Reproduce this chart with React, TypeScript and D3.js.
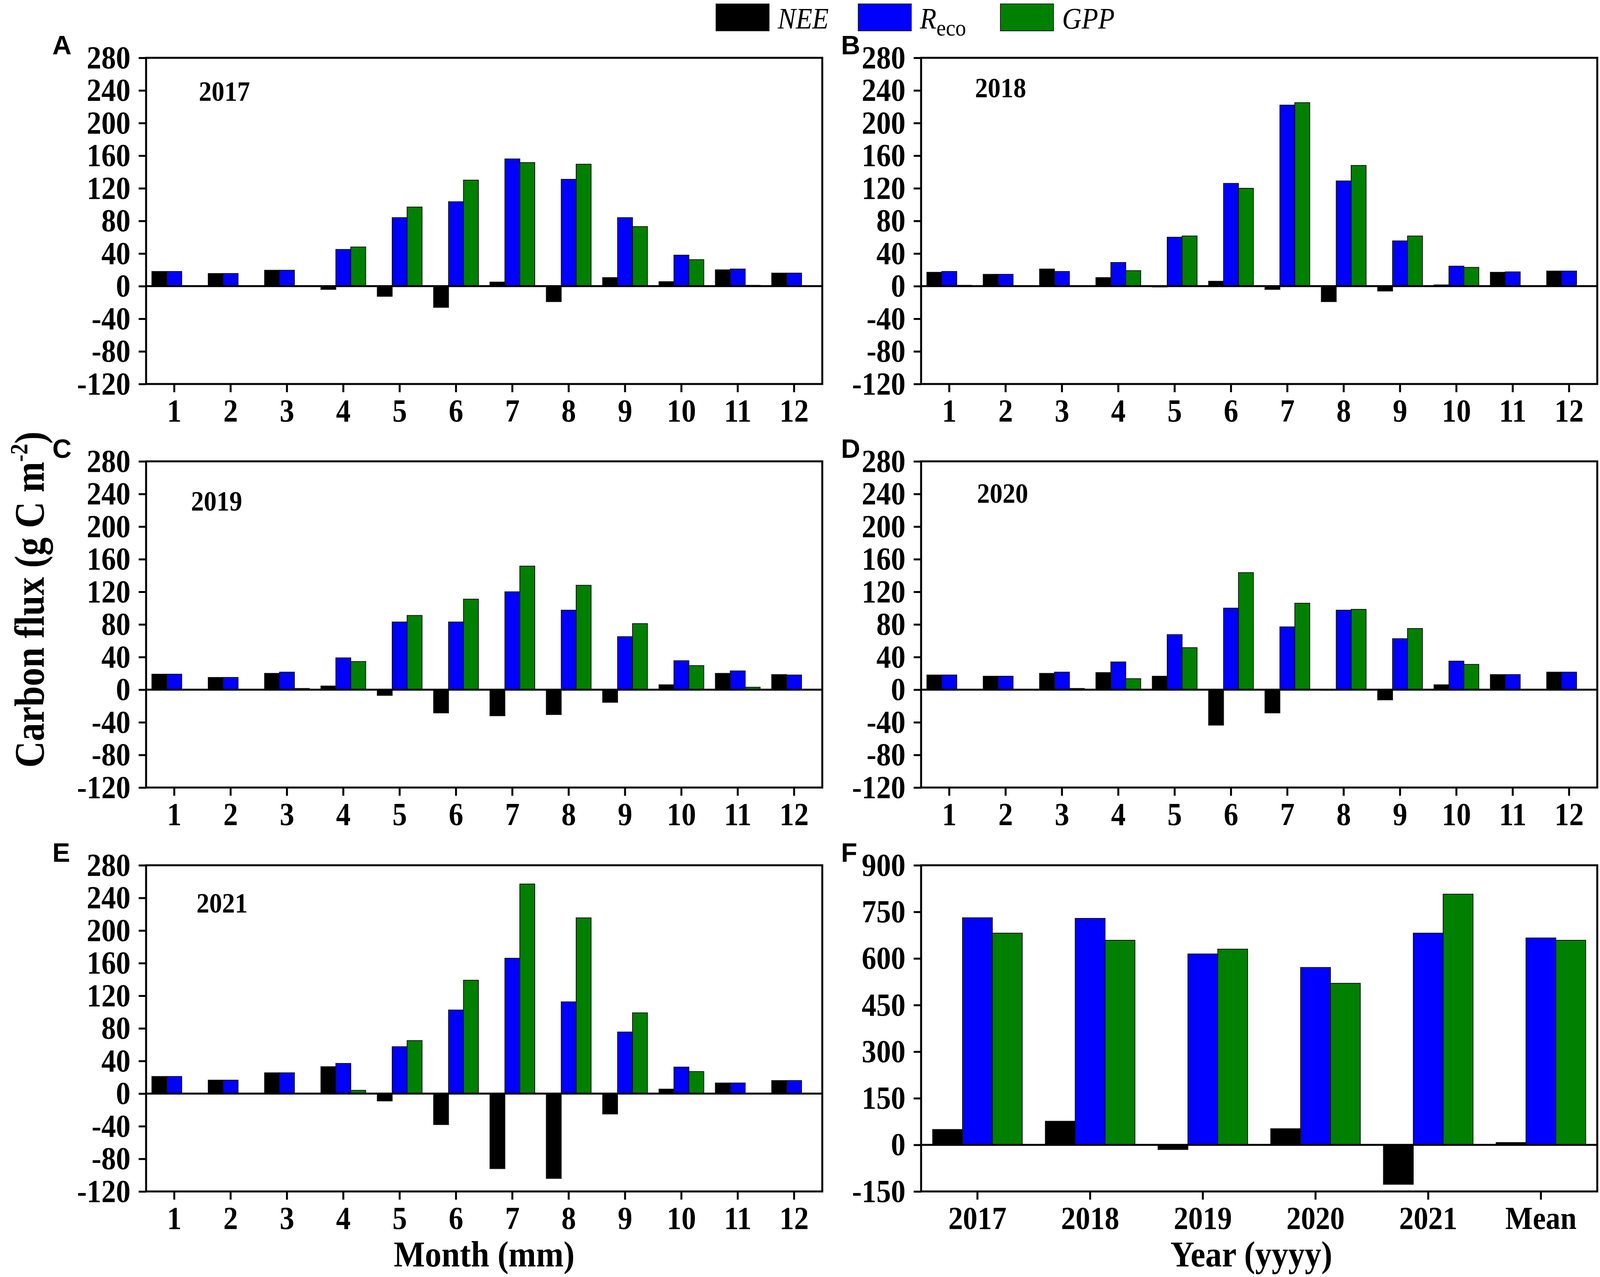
import React, { useEffect, useRef } from 'react';
import * as d3 from 'd3';

// ---- data ----
const months = ['1', '2', '3', '4', '5', '6', '7', '8', '9', '10', '11', '12'];
const years = ['2017', '2018', '2019', '2020', '2021', 'Mean'];

const nee2017 = [18, 15.5, 19.5, -4, -12.5, -26, 5, -19, 10.5, 5.5, 20, 16];
const reco2017 = [18, 15.5, 19.5, 45, 84, 103.5, 156, 131, 84, 38, 21, 16];
const gpp2017 = [0, 0, 0, 48, 97, 130, 151.5, 149.5, 73, 32.5, 1, 0];

const nee2018 = [17, 14.5, 21, 10.5, -1, 6, -4, -19, -6, 1.5, 17, 18.5];
const reco2018 = [18, 14.5, 18, 29, 60, 126, 222, 129, 55.5, 24.5, 17.5, 18.5];
const gpp2018 = [1, 0, 0, 19, 61.5, 120, 225, 148, 61.5, 23, 0.5, 0];

const nee2019 = [19, 15, 20, 4.5, -7, -28.5, -32, -30.5, -15.5, 6, 20, 18.5];
const reco2019 = [19, 15, 21.5, 39, 83, 83, 120, 97.5, 65, 35.5, 23, 18];
const gpp2019 = [0, 0, 1.5, 34.5, 91, 111, 151.5, 128, 81, 29.5, 3, 0];

const nee2020 = [18, 16.5, 20, 21, 16.5, -43.5, -28.5, -0.8, -12.5, 6, 18.5, 21.5];
const reco2020 = [18, 16.5, 21.5, 34, 67.5, 100, 77, 97.5, 62.5, 35, 18.5, 21.5];
const gpp2020 = [0, 0, 1.5, 13.5, 51.5, 143.5, 106, 98.5, 75, 31, 0, 0];

const nee2021 = [21, 16.5, 25.5, 33, -9, -38, -92, -104, -25, 5.5, 13, 16];
const reco2021 = [21, 16.5, 25.5, 37, 57.5, 102.5, 166, 112.5, 75.5, 32.5, 13, 16];
const gpp2021 = [0, 0, 0, 4, 65, 139, 257, 215.5, 99, 27, 0, 0];

const neeAnnual = [49.5, 76, -15, 52, -127, 7.5];
const recoAnnual = [731, 729, 614.5, 571, 681.5, 666];
const gppAnnual = [681.5, 658.5, 630, 520, 807, 658.5];

const seriesKeys = ['NEE', 'Reco', 'GPP'];
const seriesColors = ['#000000', '#0000ff', '#008000'];

const monthTicks = [-120, -80, -40, 0, 40, 80, 120, 160, 200, 240, 280];
const annualTicks = [-150, 0, 150, 300, 450, 600, 750, 900];

// ---- layout ----
const W = 4107;
const H = 3269;
const colLeft = [374, 2358];
const rowTop = [148, 1181, 2215];
const plotW = 1731;
const plotH = 835;
const SX = 0.91; // figure text is a bit narrow
const serif = '"Liberation Serif", "Times New Roman", serif';
const sans = '"Liberation Sans", Arial, sans-serif';

type Panel = {
  letter: string;
  label: string | null;
  cats: string[];
  values: number[][];
  ticks: number[];
  col: number;
  row: number;
  labelDx: number;
  labelDy: number;
};

const panels: Panel[] = [
  { letter: 'A', label: '2017', cats: months, values: [nee2017, reco2017, gpp2017], ticks: monthTicks, col: 0, row: 0, labelDx: 135, labelDy: 110 },
  { letter: 'B', label: '2018', cats: months, values: [nee2018, reco2018, gpp2018], ticks: monthTicks, col: 1, row: 0, labelDx: 138, labelDy: 101 },
  { letter: 'C', label: '2019', cats: months, values: [nee2019, reco2019, gpp2019], ticks: monthTicks, col: 0, row: 1, labelDx: 115, labelDy: 126 },
  { letter: 'D', label: '2020', cats: months, values: [nee2020, reco2020, gpp2020], ticks: monthTicks, col: 1, row: 1, labelDx: 143, labelDy: 106 },
  { letter: 'E', label: '2021', cats: months, values: [nee2021, reco2021, gpp2021], ticks: monthTicks, col: 0, row: 2, labelDx: 129, labelDy: 121 },
  { letter: 'F', label: null, cats: years, values: [neeAnnual, recoAnnual, gppAnnual], ticks: annualTicks, col: 1, row: 2, labelDx: 0, labelDy: 0 },
];

function drawPanel(svg: d3.Selection<SVGSVGElement, unknown, null, undefined>, p: Panel) {
  const g = svg.append('g').attr('transform', `translate(${colLeft[p.col]},${rowTop[p.row]})`);

  const x = d3.scaleBand<string>().domain(p.cats).range([0, plotW]);
  const groupW = x.bandwidth() * 0.795;
  const sub = d3.scaleBand<string>().domain(seriesKeys).range([0, groupW]);
  const yMin = p.ticks[0];
  const yMax = p.ticks[p.ticks.length - 1];
  const y = d3.scaleLinear().domain([yMin, yMax]).range([plotH, 0]);

  seriesKeys.forEach((key, i) => {
    g.append('g')
      .selectAll('rect')
      .data(p.values[i])
      .enter()
      .append('rect')
      .attr('x', (d, j) => (x(p.cats[j]) || 0) + (x.bandwidth() - groupW) / 2 + (sub(key) || 0))
      .attr('y', d => y(Math.max(0, d)))
      .attr('width', sub.bandwidth())
      .attr('height', d => Math.abs(y(d) - y(0)))
      .attr('fill', seriesColors[i])
      .attr('stroke', '#111')
      .attr('stroke-width', 2);
  });

  // zero line
  g.append('line')
    .attr('x1', 0)
    .attr('x2', plotW)
    .attr('y1', y(0))
    .attr('y2', y(0))
    .attr('stroke', '#000')
    .attr('stroke-width', 5);

  // frame
  g.append('rect')
    .attr('x', 0)
    .attr('y', 0)
    .attr('width', plotW)
    .attr('height', plotH)
    .attr('fill', 'none')
    .attr('stroke', '#000')
    .attr('stroke-width', 5);

  const yAxis = g.append('g').call(
    d3.axisLeft(y).tickValues(p.ticks).tickSize(19).tickPadding(21).tickFormat(d => String(d))
  );
  const xAxis = g.append('g').attr('transform', `translate(0,${plotH})`).call(
    d3.axisBottom(x).tickSize(21).tickPadding(17)
  );

  [yAxis, xAxis].forEach(ax => {
    ax.select('.domain').remove();
    ax.attr('font-size', null).attr('font-family', null);
    ax.selectAll('.tick line').attr('stroke', '#000').attr('stroke-width', 5);
    ax.selectAll('.tick text')
      .attr('fill', '#000')
      .attr('font-family', serif)
      .attr('font-weight', 'bold')
      .attr('font-size', 82);
  });

  // narrow the tick text like the original
  yAxis.selectAll<SVGTextElement, unknown>('.tick text').each(function () {
    const t = d3.select(this);
    t.attr('x', +t.attr('x') / SX).attr('transform', `scale(${SX},1)`);
  });
  xAxis.selectAll('.tick text').attr('transform', `scale(${SX},1)`);

  if (p.label) {
    g.append('text')
      .attr('transform', `translate(${p.labelDx},${p.labelDy}) scale(${SX},1)`)
      .attr('font-family', serif)
      .attr('font-weight', 'bold')
      .attr('font-size', 72)
      .text(p.label);
  }

  svg.append('text')
    .attr('x', colLeft[p.col] + (p.col === 0 ? -240 : -205))
    .attr('y', rowTop[p.row] - 9)
    .attr('font-family', sans)
    .attr('font-weight', 'bold')
    .attr('font-size', 68)
    .text(p.letter);
}

function drawLegend(svg: d3.Selection<SVGSVGElement, unknown, null, undefined>) {
  const lx = d3.scaleLinear().domain([0, 1]).range([1833, 2197]);
  const lg = svg.append('g');
  seriesKeys.forEach((key, i) => {
    const bx = lx(i);
    lg.append('rect')
      .attr('x', bx)
      .attr('y', 10)
      .attr('width', 136)
      .attr('height', 69)
      .attr('fill', seriesColors[i])
      .attr('stroke', '#222')
      .attr('stroke-width', 2);
    const t = lg.append('text')
      .attr('transform', `translate(${bx + 158},73) scale(${SX},1)`)
      .attr('font-family', serif)
      .attr('font-style', 'italic')
      .attr('font-size', 76);
    if (key === 'Reco') {
      t.append('tspan').text('R');
      t.append('tspan').attr('font-style', 'normal').attr('font-size', 60).attr('dy', 18).text('eco');
    } else {
      t.text(key);
    }
  });
}

export default function App() {
  const ref = useRef<SVGSVGElement | null>(null);

  useEffect(() => {
    document.body.style.margin = '0';
    if (!ref.current) return;
    const svg = d3.select(ref.current);
    svg.selectAll('*').remove();

    svg.append('rect').attr('width', W).attr('height', H).attr('fill', '#fff');

    panels.forEach(p => drawPanel(svg, p));
    drawLegend(svg);

    // y axis title
    const yt = svg.append('text')
      .attr('transform', `translate(112,1535) rotate(-90) scale(0.87,1)`)
      .attr('text-anchor', 'middle')
      .attr('font-family', serif)
      .attr('font-weight', 'bold')
      .attr('font-size', 108);
    yt.append('tspan').text('Carbon flux (g C m');
    yt.append('tspan').attr('font-size', 64).attr('dy', -42).text('-2');
    yt.append('tspan').attr('dy', 42).text(')');

    // x axis titles
    [
      { text: 'Month (mm)', cx: colLeft[0] + plotW / 2 },
      { text: 'Year (yyyy)', cx: colLeft[1] + plotW / 2 - 20 },
    ].forEach(tt => {
      svg.append('text')
        .attr('transform', `translate(${tt.cx},3242) scale(${SX},1)`)
        .attr('text-anchor', 'middle')
        .attr('font-family', serif)
        .attr('font-weight', 'bold')
        .attr('font-size', 93)
        .text(tt.text);
    });
  }, []);

  return <svg ref={ref} width={W} height={H} style={{ display: 'block' }} />;
}
